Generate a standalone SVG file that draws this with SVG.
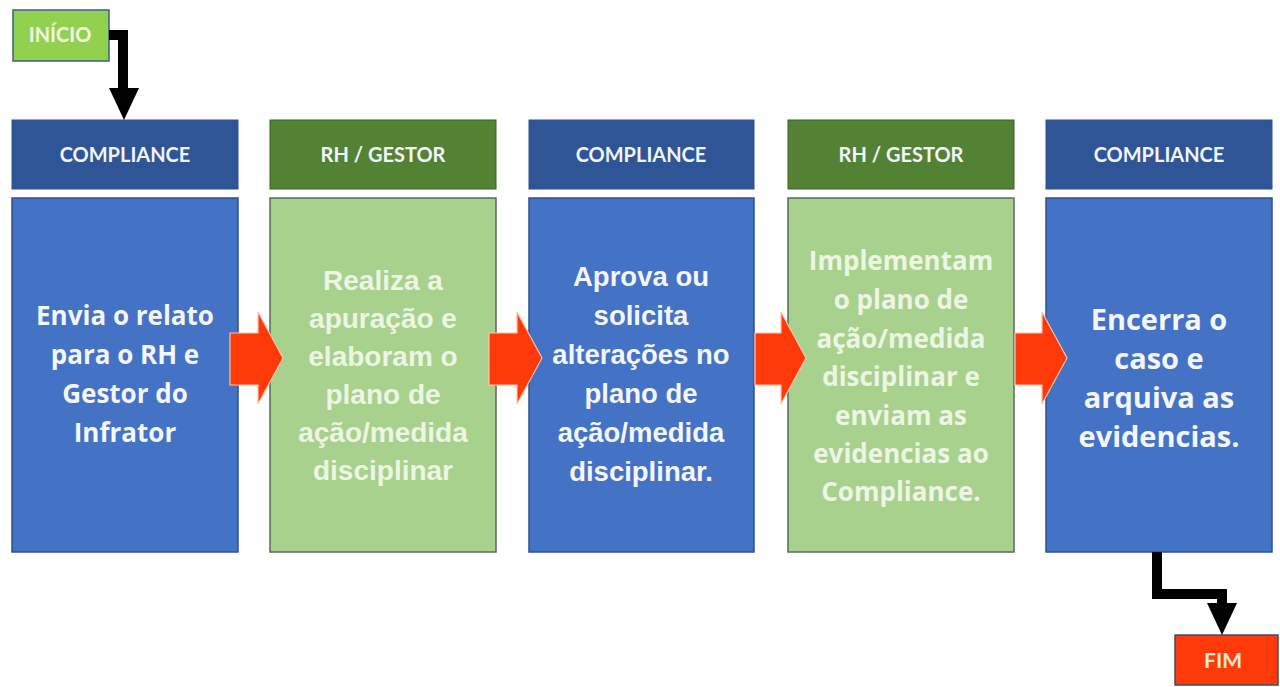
<svg xmlns="http://www.w3.org/2000/svg" width="1280" height="687" viewBox="0 0 1280 687">
<style>
.hb{fill:#2f5597;stroke:#2f528f;stroke-width:1}
.hg{fill:#548235;stroke:#3b5e24;stroke-width:1}
.bb{fill:#4472c4;stroke:#2f528f;stroke-width:1.5}
.bg{fill:#a9d18e;stroke:#5a6b57;stroke-width:1.5}
.ht{font-family:Lato,"Liberation Sans",sans-serif;font-weight:bold;font-size:20px;fill:#f2f5fb;text-anchor:middle}
.tl{font-family:Lato,"Liberation Sans",sans-serif;font-weight:bold;text-anchor:middle}
.tc{font-family:"Open Sans","Liberation Sans",sans-serif;font-weight:bold;text-anchor:middle}
.ta{font-family:"Liberation Sans",Arial,sans-serif;font-weight:bold;text-anchor:middle}
.wt{fill:#f4f6fc}
.gt{fill:#edf5e4}
.ra{fill:#ff3a0a;stroke:#ffc4a8;stroke-width:1.2}
.bk{fill:none;stroke:#000;stroke-width:10}
</style>
<rect width="1280" height="687" fill="#ffffff"/>

<g id="inicio">
<rect x="13" y="10" width="96" height="51" fill="#92d050" stroke="#3d5f80" stroke-width="1.5"/>
<text x="60" y="42" class="tl" font-size="20" fill="#f3f9e6">INÍCIO</text>
</g>

<g id="col1">
<rect x="12" y="120" width="226" height="69" class="hb"/>
<text x="125" y="162" class="ht">COMPLIANCE</text>
<rect x="12" y="198" width="226" height="354" class="bb"/>
<text class="tc wt" font-size="26"><tspan x="125" y="325">Envia o relato</tspan><tspan x="125" y="364">para o RH e</tspan><tspan x="125" y="403">Gestor do</tspan><tspan x="125" y="442">Infrator</tspan></text>
</g>

<g id="col2">
<rect x="270" y="120" width="226" height="69" class="hg"/>
<text x="383" y="162" class="ht">RH / GESTOR</text>
<rect x="270" y="198" width="226" height="354" class="bg"/>
<text class="ta gt" font-size="28"><tspan x="383" y="290">Realiza a</tspan><tspan x="383" y="328">apuração e</tspan><tspan x="383" y="366">elaboram o</tspan><tspan x="383" y="404">plano de</tspan><tspan x="383" y="442">ação/medida</tspan><tspan x="383" y="480">disciplinar</tspan></text>
</g>

<g id="col3">
<rect x="529" y="120" width="225" height="69" class="hb"/>
<text x="641" y="162" class="ht">COMPLIANCE</text>
<rect x="529" y="198" width="225" height="354" class="bb"/>
<text class="ta wt" font-size="27.5"><tspan x="641" y="286">Aprova ou</tspan><tspan x="641" y="325">solicita</tspan><tspan x="641" y="364">alterações no</tspan><tspan x="641" y="403">plano de</tspan><tspan x="641" y="442">ação/medida</tspan><tspan x="641" y="481">disciplinar.</tspan></text>
</g>

<g id="col4">
<rect x="788" y="120" width="226" height="69" class="hg"/>
<text x="901" y="162" class="ht">RH / GESTOR</text>
<rect x="788" y="198" width="226" height="354" class="bg"/>
<text class="tc gt" font-size="26"><tspan x="901" y="270">Implementam</tspan><tspan x="901" y="309">o plano de</tspan><tspan x="901" y="348">ação/medida</tspan><tspan x="901" y="386">disciplinar e</tspan><tspan x="901" y="425">enviam as</tspan><tspan x="901" y="463">evidencias ao</tspan><tspan x="901" y="501">Compliance.</tspan></text>
</g>

<g id="col5">
<rect x="1046" y="120" width="226" height="69" class="hb"/>
<text x="1159" y="162" class="ht">COMPLIANCE</text>
<rect x="1046" y="198" width="226" height="354" class="bb"/>
<text class="tc wt" font-size="29"><tspan x="1159" y="330">Encerra o</tspan><tspan x="1159" y="369">caso e</tspan><tspan x="1159" y="408">arquiva as</tspan><tspan x="1159" y="447">evidencias.</tspan></text>
</g>

<g id="fim">
<rect x="1175" y="635" width="103" height="50" fill="#ff3a0a" stroke="#3d4f6b" stroke-width="1.5"/>
<text x="1223" y="668" class="tl" font-size="21" fill="#ffead8">FIM</text>
</g>

<g id="connectors">
<polygon class="ra" points="230,333 258,333 258,312 283,358 258,404 258,385 230,385"/>
<polygon class="ra" points="489,333 517,333 517,312 542,358 517,404 517,385 489,385"/>
<polygon class="ra" points="755,333 781,333 781,312 806,358 781,404 781,385 755,385"/>
<polygon class="ra" points="1015,333 1042,333 1042,312 1067,358 1042,404 1042,385 1015,385"/>
<path class="bk" d="M109,35 H123 V90"/>
<polygon points="109,88 139,88 124,120" fill="#000"/>
<path class="bk" d="M1157,552 V594 H1222 V605"/>
<polygon points="1207,603 1237,603 1222,635" fill="#000"/>
</g>
</svg>
